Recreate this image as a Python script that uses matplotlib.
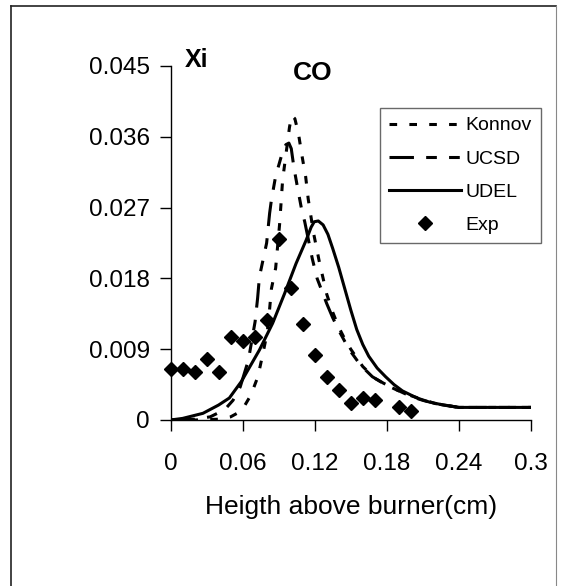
import matplotlib
matplotlib.use("Agg")
from matplotlib import pyplot as plt
from matplotlib.lines import Line2D

plt.rcParams['font.family'] = ['Liberation Sans', 'DejaVu Sans']

# measured CO mole fraction (Exp)
exp_x = [0, 0.01, 0.02, 0.03, 0.04, 0.05, 0.06, 0.07, 0.08, 0.09,
         0.10, 0.11, 0.12, 0.13, 0.14, 0.15, 0.16, 0.17, 0.19, 0.20]
exp_y = [0.0065, 0.0065, 0.0061, 0.0078, 0.0061, 0.0106, 0.0100, 0.0105, 0.0127, 0.0230,
         0.0168, 0.0122, 0.0083, 0.0055, 0.0038, 0.0022, 0.0028, 0.0025, 0.0016, 0.0012]

# Konnov mechanism
konnov_x = [0, 0.02, 0.04, 0.05, 0.056, 0.062, 0.067, 0.0727, 0.0767, 0.0806, 0.0823, 0.084,
            0.0875, 0.0908, 0.0933, 0.0967, 0.0990, 0.1008, 0.1035, 0.1065, 0.1093, 0.1125,
            0.1146, 0.119, 0.124, 0.13, 0.135, 0.14, 0.145, 0.15, 0.16, 0.17, 0.18, 0.19,
            0.20, 0.21, 0.22, 0.24, 0.30]
konnov_y = [0, 0, 0.0001, 0.0004, 0.0009, 0.0019, 0.0032, 0.0055, 0.0083, 0.0112, 0.0138, 0.0167,
            0.0193, 0.0249, 0.0305, 0.0345, 0.0372, 0.0387, 0.0383, 0.0364, 0.0337, 0.0309,
            0.0281, 0.0238, 0.0200, 0.0160, 0.0137, 0.0118, 0.0103, 0.0090, 0.0068, 0.0053,
            0.0044, 0.0037, 0.0031, 0.0026, 0.0021, 0.0016, 0.0016]

# UCSD mechanism
ucsd_x = [0, 0.02, 0.033, 0.045, 0.052, 0.058, 0.0648, 0.0704, 0.0725, 0.074, 0.08, 0.0825,
          0.084, 0.0875, 0.0933, 0.0960, 0.0985, 0.1005, 0.1028, 0.106, 0.1092, 0.1117,
          0.118, 0.122, 0.13, 0.135, 0.14, 0.145, 0.149, 0.158, 0.168, 0.177, 0.186, 0.20,
          0.21, 0.22, 0.24, 0.30]
ucsd_y = [0, 0.0001, 0.0004, 0.0013, 0.0025, 0.0042, 0.0076, 0.0125, 0.0155, 0.0182, 0.0225, 0.0263,
          0.0280, 0.0310, 0.0341, 0.0350, 0.0352, 0.0345, 0.0320, 0.0293, 0.0267, 0.0252,
          0.0205, 0.0180, 0.0148, 0.0130, 0.0114, 0.0100, 0.0089, 0.0070, 0.0055, 0.0047,
          0.0040, 0.0030, 0.0025, 0.0021, 0.0016, 0.0016]

# UDEL mechanism
udel_x = [0, 0.01, 0.027, 0.04, 0.049, 0.059, 0.074, 0.085, 0.095, 0.1045, 0.113, 0.117,
          0.1196, 0.123, 0.127, 0.131, 0.135, 0.140, 0.145, 0.150, 0.155, 0.160, 0.165,
          0.172, 0.179, 0.186, 0.193, 0.205, 0.215, 0.227, 0.24, 0.30]
udel_y = [0, 0.0002, 0.00085, 0.0019, 0.0028, 0.0049, 0.0089, 0.0123, 0.0161, 0.0199, 0.0229, 0.0245,
          0.0252, 0.0253, 0.0248, 0.0236, 0.0218, 0.0194, 0.0167, 0.0140, 0.0115, 0.0096, 0.0081,
          0.0066, 0.0055, 0.0045, 0.0037, 0.0028, 0.0023, 0.0019, 0.0016, 0.0016]

x_ticks = [0, 0.06, 0.12, 0.18, 0.24, 0.3]
x_labels = ['0', '0.06', '0.12', '0.18', '0.24', '0.3']
y_ticks = [0, 0.009, 0.018, 0.027, 0.036, 0.045]
y_labels = ['0', '0.009', '0.018', '0.027', '0.036', '0.045']

W, H = 565, 586
fig = plt.figure(figsize=(W / 100, H / 100), dpi=100)

# outer frame
fig.add_artist(Line2D([11 / W, 11 / W], [0, 1 - 6 / H], color='#222222', lw=1.2))
fig.add_artist(Line2D([11 / W, 556 / W], [1 - 6 / H, 1 - 6 / H], color='#222222', lw=1.2))
fig.add_artist(Line2D([556 / W, 556 / W], [0, 1 - 6 / H], color='#888888', lw=0.8))

ax = fig.add_axes([170.5 / W, 1 - 420 / H, (531 - 170.5) / W, (420 - 66) / H])

ax.plot(konnov_x, konnov_y, color='black', lw=2.2, ls=(0, (2.5, 4)), label='Konnov')
ax.plot(ucsd_x, ucsd_y, color='black', lw=2.2, ls=(0, (8, 4, 3.5, 4, 3.5, 4)), label='UCSD')
ax.plot(udel_x, udel_y, color='black', lw=2.2, label='UDEL')
ax.plot(exp_x, exp_y, 'D', color='black', ms=7.5, ls='none', label='Exp', zorder=5, clip_on=False)

ax.set_xlim(0, 0.3)
ax.set_ylim(0, 0.045)
ax.set_xticks(x_ticks)
ax.set_xticklabels(x_labels)
ax.set_yticks(y_ticks)
ax.set_yticklabels(y_labels)
ax.tick_params(axis='x', direction='out', length=8, width=1, pad=16, labelsize=17.5)
ax.tick_params(axis='y', direction='out', length=8, width=1, pad=7, labelsize=17.5)
for s in ['top', 'right']:
    ax.spines[s].set_visible(False)
for s in ['left', 'bottom']:
    ax.spines[s].set_linewidth(1)

leg = ax.legend(loc='upper left', bbox_to_anchor=(380 / W, 1 - 108 / H),
                bbox_transform=fig.transFigure, borderaxespad=0, fontsize=14,
                frameon=True, fancybox=False, handlelength=3.7, handletextpad=0.26,
                labelspacing=0.8, borderpad=0.45, markerscale=1.0)
leg.get_frame().set_edgecolor('#444444')
leg.get_frame().set_linewidth(1)

fig.text(197 / W, 1 - 60 / H, 'Xi', fontsize=18, fontweight='bold', ha='center', va='center')
fig.text(313 / W, 1 - 73 / H, 'CO', fontsize=19, fontweight='bold', ha='center', va='center')
fig.text(351.5 / W, 1 - 507 / H, 'Heigth above burner(cm)', fontsize=19, ha='center', va='center')

fig.savefig('out.png', dpi=100)
